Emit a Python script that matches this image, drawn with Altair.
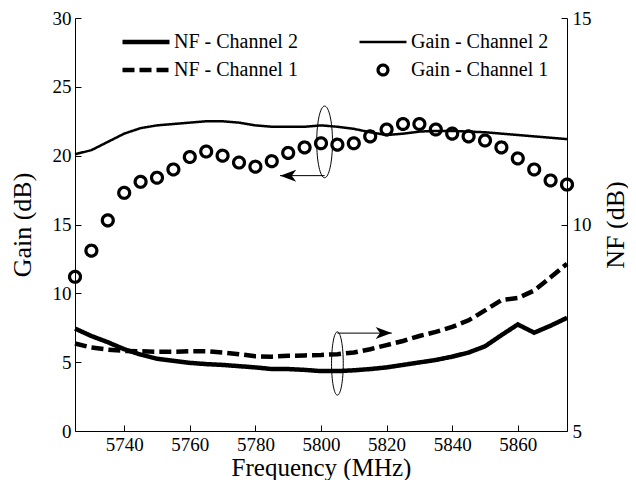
import altair as alt
import pandas as pd

# ---------------- data ----------------
freq = [5725, 5730, 5735, 5740, 5745, 5750, 5755, 5760, 5765, 5770, 5775,
        5780, 5785, 5790, 5795, 5800, 5805, 5810, 5815, 5820, 5825, 5830,
        5835, 5840, 5845, 5850, 5855, 5860, 5865, 5870, 5875]

gain_ch2 = [20.1, 20.4, 21.0, 21.6, 22.0, 22.2, 22.3, 22.4, 22.5, 22.5, 22.4,
            22.2, 22.1, 22.1, 22.1, 22.2, 22.1, 21.95, 21.7, 21.5, 21.6, 21.75,
            21.8, 21.8, 21.75, 21.7, 21.6, 21.5, 21.4, 21.3, 21.2]

gain_ch1 = [11.2, 13.1, 15.3, 17.3, 18.1, 18.4, 19.0, 19.9, 20.3, 20.0, 19.5,
            19.2, 19.6, 20.2, 20.6, 20.9, 20.8, 20.9, 21.4, 21.9, 22.3, 22.3,
            21.9, 21.6, 21.4, 21.1, 20.6, 19.8, 19.0, 18.2, 17.9]

nf_ch2 = [7.48, 7.3, 7.15, 6.98, 6.85, 6.75, 6.7, 6.65, 6.62, 6.6, 6.57,
          6.54, 6.5, 6.5, 6.48, 6.45, 6.45, 6.47, 6.5, 6.54, 6.6, 6.66,
          6.72, 6.8, 6.9, 7.05, 7.32, 7.58, 7.38, 7.55, 7.74]

nf_ch1 = [7.12, 7.02, 6.97, 6.94, 6.93, 6.92, 6.92, 6.93, 6.93, 6.9, 6.86,
          6.81, 6.8, 6.82, 6.83, 6.84, 6.86, 6.9, 6.98, 7.08, 7.18, 7.3,
          7.4, 7.52, 7.68, 7.92, 8.17, 8.22, 8.4, 8.72, 9.05]

# legend is laid out column by column: NF entries left, Gain entries right
series_order = ["NF - Channel 2", "NF - Channel 1", "Gain - Channel 2", "Gain - Channel 1"]

x_ticks = [5740, 5760, 5780, 5800, 5820, 5840, 5860]
gain_ticks = [0, 5, 10, 15, 20, 25, 30]
nf_ticks = [5, 10, 15]

# annotation markers (data units): ellipse centres, arrow start/end
gain_ellipse = {"freq": [5801.1], "value": [21.0]}
gain_arrow = {"freq": [5801.1], "freq2": [5787.5], "head": [5790.0], "value": [18.55]}
nf_ellipse = {"freq": [5805.0], "value": [6.635]}
nf_arrow = {"freq": [5805.0], "freq2": [5821.6], "head": [5819.1], "value": [7.37]}

# ---------------- tables ----------------
gain_line_df = pd.DataFrame({"freq": freq, "value": gain_ch2, "series": "Gain - Channel 2"})
gain_pts_df = pd.DataFrame({"freq": freq, "value": gain_ch1, "series": "Gain - Channel 1"})
nf_df = pd.concat([
    pd.DataFrame({"freq": freq, "value": nf_ch2, "series": "NF - Channel 2"}),
    pd.DataFrame({"freq": freq, "value": nf_ch1, "series": "NF - Channel 1"}),
])

FONT = "Liberation Serif"
circle_path = "M -0.21 0 A 0.21 0.21 0 1 0 0.21 0 A 0.21 0.21 0 1 0 -0.21 0 Z"
gain_ell_path = "M 0 -1 A 0.22 1 0 1 1 0 1 A 0.22 1 0 1 1 0 -1 Z"
nf_ell_path = "M 0 -1 A 0.185 1 0 1 1 0 1 A 0.185 1 0 1 1 0 -1 Z"
head_left = "M -1 0 L 1 -0.75 L 0.45 0 L 1 0.75 Z"
head_right = "M 1 0 L -1 -0.75 L -0.45 0 L -1 0.75 Z"

neg_tick = {"expr": "-6"}
axis_common = dict(tickSize=neg_tick, labelFont=FONT, labelFontSize=19, labelColor="black",
                   titleFont=FONT, titleFontSize=26, titleFontWeight="normal",
                   titleColor="black", titleBaseline="middle")

x_enc = alt.X("freq:Q",
              scale=alt.Scale(domain=[5725, 5875], nice=False, zero=False),
              axis=alt.Axis(values=x_ticks, title="Frequency (MHz)", format="d",
                            labelPadding=10, titleY=36,
                            **{**axis_common, "titleFontSize": 25}))

gain_y = alt.Y("value:Q",
               scale=alt.Scale(domain=[0, 30], nice=False),
               axis=alt.Axis(values=gain_ticks, title="Gain (dB)", orient="left",
                             labelPadding=10, titleX=-53, **axis_common))

nf_y = alt.Y("value:Q",
             scale=alt.Scale(domain=[5, 15], nice=False, zero=False),
             axis=alt.Axis(values=nf_ticks, title="NF (dB)", orient="right",
                           labelPadding=11, titleAngle=270, titleX=48, **axis_common))

dash_enc = alt.StrokeDash("series:N",
                          scale=alt.Scale(domain=series_order,
                                          range=[[1, 0], [12, 5], [1, 0], [1, 0]]),
                          legend=alt.Legend(title=None))
width_enc = alt.StrokeWidth("series:N",
                            scale=alt.Scale(type="ordinal", domain=series_order,
                                            range=[4.5, 4.5, 2.5, 3.2]),
                            legend=alt.Legend(title=None))
shape_enc = alt.Shape("series:N",
                      scale=alt.Scale(domain=series_order,
                                      range=["stroke", "stroke", "stroke", circle_path]),
                      legend=alt.Legend(title=None))

gain_line = alt.Chart(gain_line_df).mark_line(color="black").encode(
    x=x_enc, y=gain_y, strokeDash=dash_enc, strokeWidth=width_enc)

gain_pts = alt.Chart(gain_pts_df).mark_point(color="black", filled=False, size=2700, opacity=1).encode(
    x=x_enc, y=gain_y, shape=shape_enc, strokeDash=dash_enc, strokeWidth=width_enc)

g_ell = alt.Chart(pd.DataFrame(gain_ellipse)).mark_point(
    shape=gain_ell_path, size=5140, filled=False, color="black", strokeWidth=1, opacity=1
).encode(x="freq:Q", y="value:Q")
g_rule = alt.Chart(pd.DataFrame(gain_arrow)).mark_rule(color="black", strokeWidth=1).encode(
    x="freq:Q", x2="freq2:Q", y="value:Q")
g_head = alt.Chart(pd.DataFrame(gain_arrow)).mark_point(
    shape=head_left, size=256, filled=True, color="black", opacity=1
).encode(x="head:Q", y="value:Q")

nf_lines = alt.Chart(nf_df).mark_line(color="black").encode(
    x=x_enc, y=nf_y, strokeDash=dash_enc, strokeWidth=width_enc)

n_ell = alt.Chart(pd.DataFrame(nf_ellipse)).mark_point(
    shape=nf_ell_path, size=4010, filled=False, color="black", strokeWidth=1, opacity=1
).encode(x="freq:Q", y="value:Q")
n_rule = alt.Chart(pd.DataFrame(nf_arrow)).mark_rule(color="black", strokeWidth=1).encode(
    x="freq:Q", x2="freq2:Q", y="value:Q")
n_head = alt.Chart(pd.DataFrame(nf_arrow)).mark_point(
    shape=head_right, size=256, filled=True, color="black", opacity=1
).encode(x="head:Q", y="value:Q")

gain_group = alt.layer(gain_line, gain_pts, g_ell, g_rule, g_head)
nf_group = alt.layer(nf_lines, n_ell, n_rule, n_head)

chart = alt.layer(gain_group, nf_group).resolve_scale(y="independent").properties(
    width=492, height=413,
    autosize=alt.AutoSizeParams(type="none"),
    padding={"left": 67, "top": 10, "right": 61, "bottom": 49},
).configure_view(stroke=None).configure_axis(
    grid=False,
    domainColor="black", domainWidth=1,
    tickColor="black", tickWidth=1,
    labelFont=FONT, titleFont=FONT,
).configure_legend(
    orient="none", legendX=45, legendY=14, columns=2,
    symbolSize=2209, clipHeight=20, rowPadding=8, columnPadding=59,
    labelFont=FONT, labelFontSize=20, labelColor="black", labelOffset=2,
    symbolStrokeColor="black", symbolFillColor="transparent",
)
chart.config.style = {"guide-label": {"font": FONT}, "guide-title": {"font": FONT}}

chart.save("out.html", embed_options={"renderer": "svg", "actions": False})
